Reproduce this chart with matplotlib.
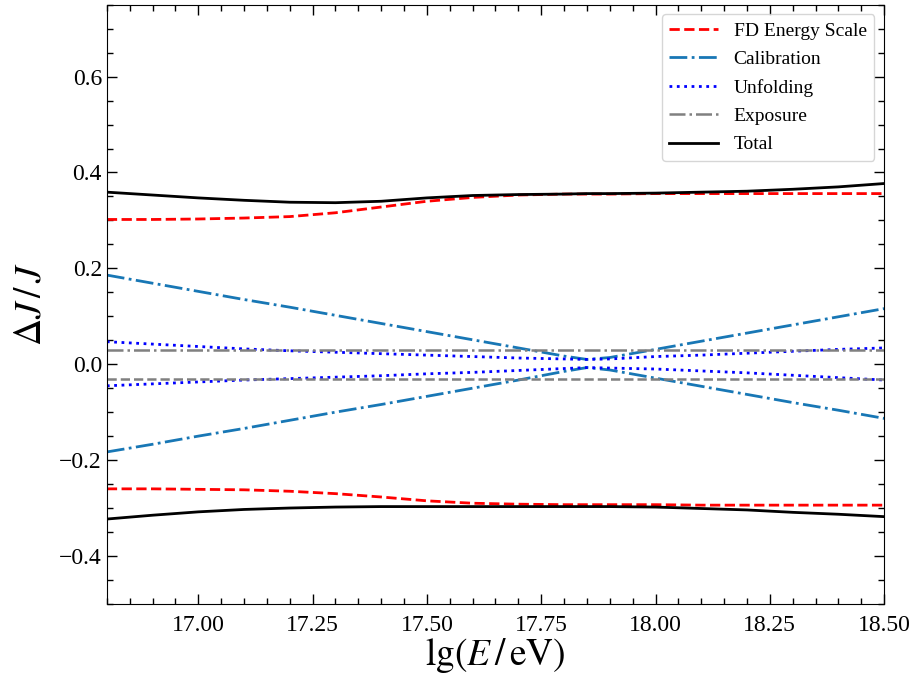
import matplotlib
matplotlib.use("Agg")
import matplotlib.pyplot as plt
from matplotlib.ticker import MultipleLocator

plt.rcParams["font.family"] = ["Liberation Serif", "DejaVu Serif"]
plt.rcParams["mathtext.fontset"] = "stix"

# energy grid, lg(E/eV)
lg_e = [16.8, 16.9, 17.0, 17.1, 17.2, 17.3, 17.4, 17.5, 17.6, 17.7,
        17.8, 17.85, 17.9, 18.0, 18.1, 18.2, 18.3, 18.4, 18.5]

# relative systematic uncertainties (upper / lower bands)
fd_up = [0.302, 0.302, 0.303, 0.305, 0.308, 0.316, 0.328, 0.340, 0.348, 0.353,
         0.355, 0.355, 0.355, 0.356, 0.356, 0.356, 0.356, 0.356, 0.356]
fd_lo = [-0.260, -0.260, -0.261, -0.262, -0.265, -0.270, -0.277, -0.285, -0.290, -0.292,
         -0.293, -0.293, -0.293, -0.293, -0.294, -0.294, -0.294, -0.294, -0.294]

cal_up = [0.186, 0.169, 0.152, 0.135, 0.119, 0.102, 0.085, 0.068, 0.051, 0.034,
          0.017, 0.010, 0.014, 0.031, 0.048, 0.065, 0.082, 0.099, 0.116]
cal_lo = [-0.183, -0.167, -0.150, -0.134, -0.117, -0.100, -0.084, -0.067, -0.050, -0.033,
          -0.015, -0.007, -0.012, -0.029, -0.046, -0.063, -0.080, -0.096, -0.113]

unf_up = [0.047, 0.042, 0.037, 0.032, 0.028, 0.025, 0.022, 0.019, 0.016, 0.013,
          0.011, 0.010, 0.011, 0.016, 0.019, 0.023, 0.027, 0.031, 0.034]
unf_lo = [-0.045, -0.041, -0.037, -0.033, -0.030, -0.027, -0.024, -0.020, -0.017, -0.013,
          -0.009, -0.007, -0.008, -0.010, -0.014, -0.018, -0.023, -0.028, -0.033]

exp_up = 0.03
exp_lo = -0.03

tot_up = [0.359, 0.353, 0.347, 0.342, 0.338, 0.337, 0.340, 0.347, 0.352, 0.354,
          0.355, 0.356, 0.356, 0.357, 0.359, 0.361, 0.365, 0.370, 0.377]
tot_lo = [-0.323, -0.315, -0.308, -0.303, -0.300, -0.298, -0.297, -0.297, -0.297, -0.297,
          -0.297, -0.297, -0.297, -0.298, -0.301, -0.304, -0.309, -0.313, -0.318]

fig = plt.figure(figsize=(9.21, 6.77), dpi=100)
ax = fig.add_axes([0.116, 0.108, 0.844, 0.885])

cal_color = "#1877b5"

ax.plot(lg_e, fd_up, "--", color="red", lw=2, label="FD Energy Scale")
ax.plot(lg_e, fd_lo, "--", color="red", lw=2)
ax.plot(lg_e, cal_up, "-.", color=cal_color, lw=2, label="Calibration")
ax.plot(lg_e, cal_lo, "-.", color=cal_color, lw=2)
ax.plot(lg_e, unf_up, ":", color="blue", lw=2, label="Unfolding")
ax.plot(lg_e, unf_lo, ":", color="blue", lw=2)
ax.plot([lg_e[0], lg_e[-1]], [exp_up, exp_up], "-.", color="gray", lw=1.8, label="Exposure")
ax.plot([lg_e[0], lg_e[-1]], [exp_lo, exp_lo], "--", color="gray", lw=1.8)
ax.plot(lg_e, tot_up, "-", color="black", lw=2, label="Total")
ax.plot(lg_e, tot_lo, "-", color="black", lw=2)

ax.set_xlim(16.8, 18.5)
ax.set_ylim(-0.5, 0.75)
ax.xaxis.set_major_locator(MultipleLocator(0.25))
ax.xaxis.set_minor_locator(MultipleLocator(0.05))
ax.yaxis.set_major_locator(MultipleLocator(0.2))
ax.yaxis.set_minor_locator(MultipleLocator(0.05))
ax.tick_params(which="both", direction="in", top=True, right=True, labelsize=17)
ax.tick_params(which="major", length=7, width=1)
ax.tick_params(which="minor", length=4, width=1)
ax.tick_params(axis="x", which="major", pad=8)
ax.xaxis.set_major_formatter(plt.FuncFormatter(lambda v, p: f"{v:.2f}"))
ax.yaxis.set_major_formatter(plt.FuncFormatter(lambda v, p: f"{v:.1f}".replace("-", "\u2212")))

ax.set_xlabel(r"$\lg(E\,/\,\mathrm{eV})$", fontsize=27, labelpad=0)
ax.set_ylabel(r"$\Delta J\,/\,J$", fontsize=27, labelpad=8)

ax.legend(loc="upper right", fontsize=14, handlelength=2.5, labelspacing=0.55)

fig.savefig("out.png", dpi=100)
